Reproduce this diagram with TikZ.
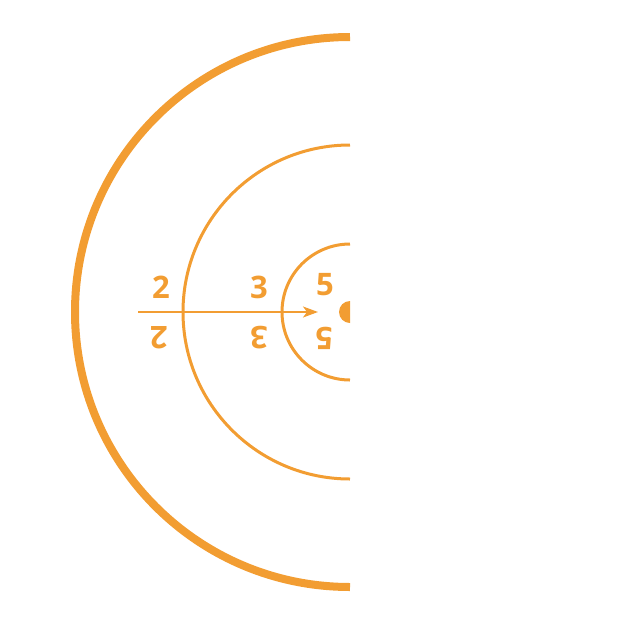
\documentclass[tikz,border=0pt]{standalone}
\usepackage{fontspec}
\setmainfont{Open Sans}
\usetikzlibrary{arrows.meta}
\definecolor{ringorange}{RGB}{242,157,50}
\tikzset{
  ring/.style={draw=ringorange, line width=3pt},
  digit/.style={text=ringorange, font=\fontsize{31}{31}\selectfont\bfseries, inner sep=0pt}
}

\begin{document}
\begin{tikzpicture}[x=1pt,y=-1pt]
    \useasboundingbox (0,0) rectangle (625,625);
    % half rings
    \draw[ring, line width=8pt] (350,37) arc[start angle=270, end angle=90, radius=275];
    \draw[ring] (350,145) arc[start angle=270, end angle=90, radius=167];
    \draw[ring] (350,244) arc[start angle=270, end angle=90, radius=68];
    \fill[ringorange] (350,301) arc[start angle=270, end angle=90, radius=11] -- cycle;
    % scores
    \node[digit] (twoup) at (161,287) {2};
    \node[digit] (threeup) at (259,287) {3};
    \node[digit] (fiveup) at (325,285) {5};
    \node[digit, rotate=180] (twodown) at (159,338) {2};
    \node[digit, rotate=180] (threedown) at (259,338) {3};
    \node[digit, rotate=180] (fivedown) at (324,338) {5};
    % shot
    \coordinate (tail) at (138,312);
    \coordinate (tip) at (318,312);
    \draw[ringorange, line width=1.5pt, -{Stealth[length=15pt,width=11pt,inset=4pt]}] (tail) -- (tip);
\end{tikzpicture}
\end{document}
